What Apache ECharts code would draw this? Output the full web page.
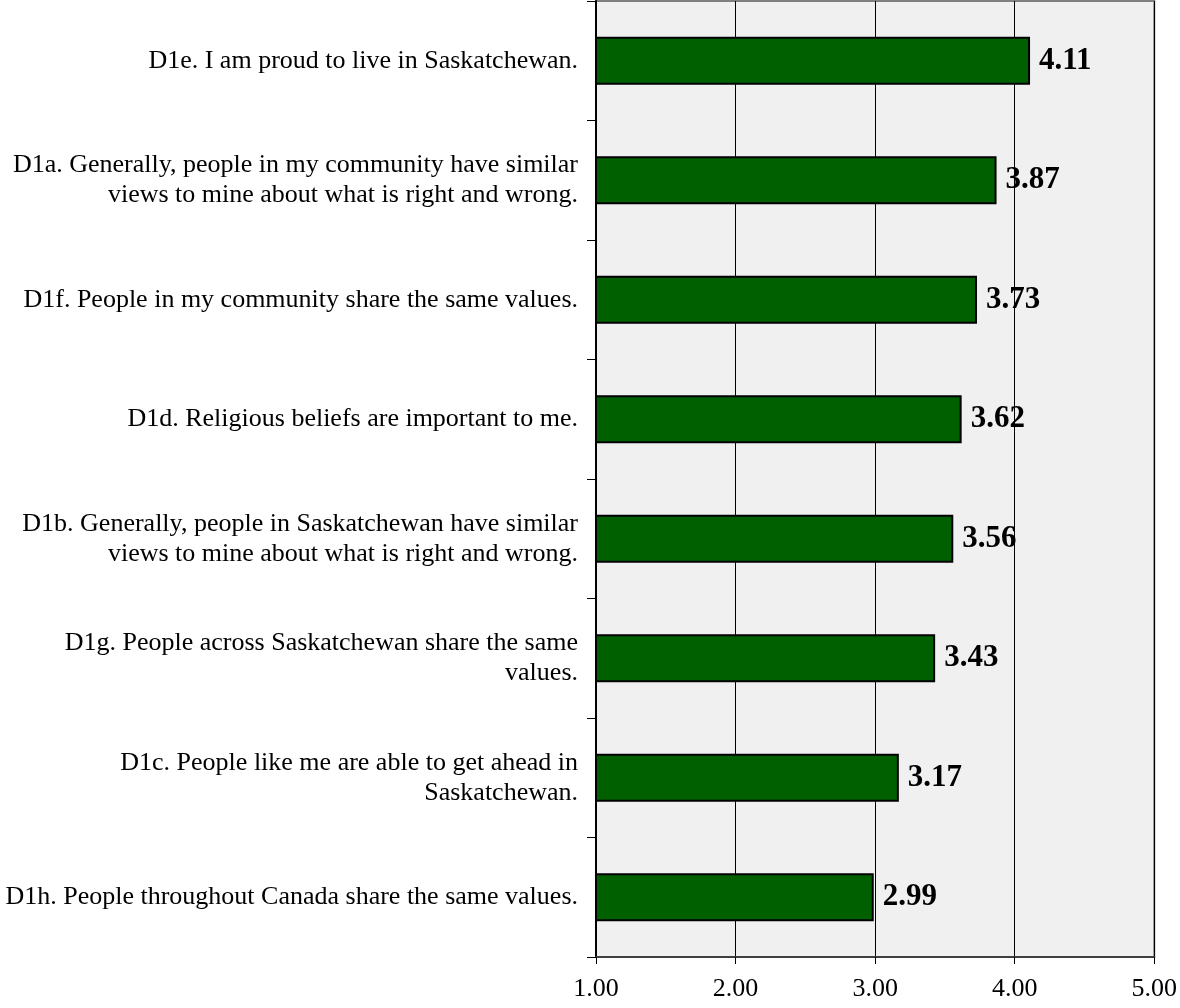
<!DOCTYPE html>
<html>
<head>
<meta charset="utf-8">
<script src="https://cdn.jsdelivr.net/npm/echarts@6/dist/echarts.min.js"></script>
<style>
html,body{margin:0;padding:0;background:#fff;}
#chart{width:1180px;height:1008px;}
</style>
</head>
<body>
<div id="chart"></div>
<script>
// Categories listed top to bottom
const categories = [
  "D1e. I am proud to live in Saskatchewan.",
  "D1a. Generally, people in my community have similar\nviews to mine about what is right and wrong.",
  "D1f. People in my community share the same values.",
  "D1d. Religious beliefs are important to me.",
  "D1b. Generally, people in Saskatchewan have similar\nviews to mine about what is right and wrong.",
  "D1g. People across Saskatchewan share the same\nvalues.",
  "D1c. People like me are able to get ahead in\nSaskatchewan.",
  "D1h. People throughout Canada share the same values."
];
const values = [4.11, 3.87, 3.73, 3.62, 3.56, 3.43, 3.17, 2.99];
const xTicks = [1, 2, 3, 4, 5];

const chart = echarts.init(document.getElementById('chart'));
const serif = '"Liberation Serif", "DejaVu Serif", serif';
chart.setOption({
  animation: false,
  backgroundColor: '#ffffff',
  grid: {
    left: 596, right: 21, top: 1, bottom: 51,
    show: true,
    backgroundColor: '#f0f0f0',
    borderColor: '#808080',
    borderWidth: 2
  },
  xAxis: {
    type: 'value',
    min: xTicks[0], max: xTicks[xTicks.length - 1], interval: 1,
    position: 'bottom',
    axisLine: { show: true, onZero: false, lineStyle: { color: '#404040', width: 2 } },
    axisTick: { show: true, inside: false, length: 7, lineStyle: { color: '#000', width: 1 } },
    splitLine: { show: true, lineStyle: { color: '#000', width: 1 } },
    axisLabel: {
      color: '#000', fontFamily: serif, fontSize: 26, margin: 19,
      formatter: v => v.toFixed(2)
    }
  },
  yAxis: {
    type: 'category',
    inverse: true,
    data: categories,
    axisLine: { show: true, lineStyle: { color: '#000', width: 2 } },
    axisTick: { show: true, inside: false, length: 9, alignWithLabel: false, lineStyle: { color: '#000', width: 1 } },
    axisLabel: {
      color: '#000', fontFamily: serif, fontSize: 26, lineHeight: 30,
      margin: 18, align: 'right'
    }
  },
  series: [{
    type: 'bar',
    data: values,
    barWidth: 48,
    itemStyle: { color: '#006000', borderColor: '#000', borderWidth: 2 },
    label: {
      show: true, position: 'right', distance: 9,
      color: '#000', fontFamily: serif, fontWeight: 'bold', fontSize: 31,
      formatter: p => p.value.toFixed(2)
    }
  }]
});
</script>
</body>
</html>
